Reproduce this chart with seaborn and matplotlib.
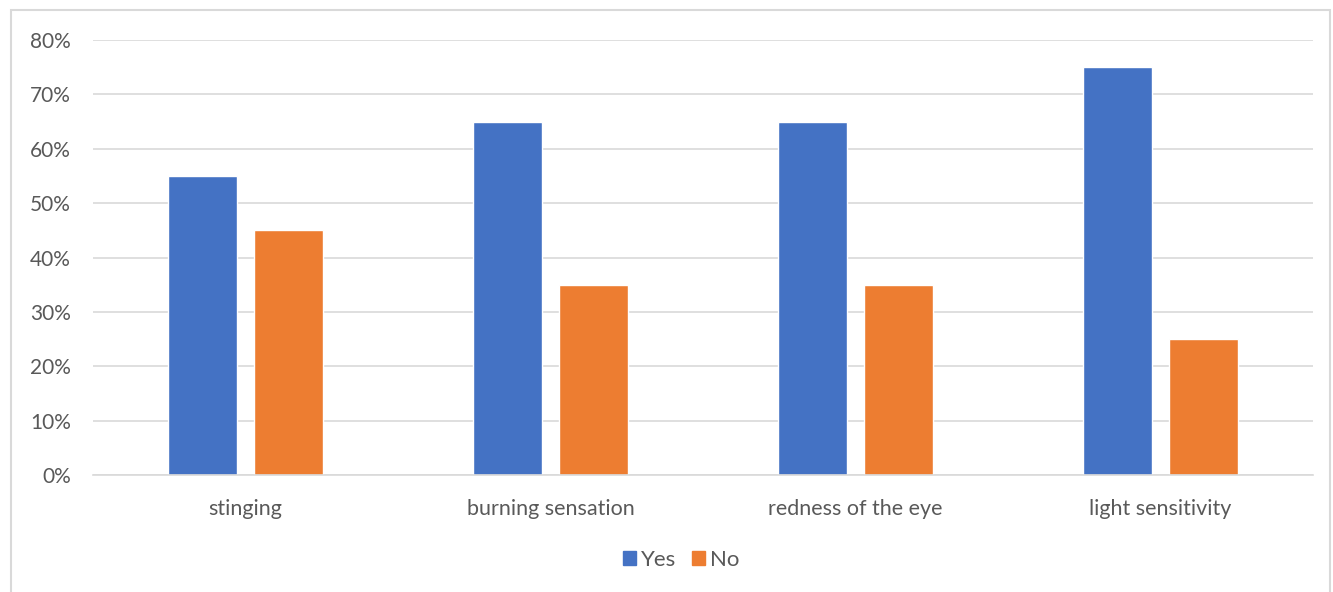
import matplotlib
matplotlib.use("Agg")
import matplotlib.pyplot as plt
import seaborn as sns
import pandas as pd
from matplotlib.patches import Rectangle
from matplotlib.ticker import PercentFormatter

categories = ["stinging", "burning sensation", "redness of the eye", "light sensitivity"]
yes_values = [55, 65, 65, 75]
no_values = [45, 35, 35, 25]
series_names = ["Yes", "No"]
colors = ["#4472C4", "#ED7D31"]

df = pd.DataFrame({
    "category": categories * 2,
    "value": yes_values + no_values,
    "series": [series_names[0]] * 4 + [series_names[1]] * 4,
})

sns.set_theme(style="white")
plt.rcParams["font.family"] = ["Lato", "DejaVu Sans"]

W, H = 1333, 592
fig = plt.figure(figsize=(W / 100, H / 100), dpi=100)
ax = fig.add_axes([93 / W, 1 - 475 / H, (1313 - 93) / W, (475 - 40) / H])

sns.barplot(data=df, x="category", y="value", hue="series", palette=colors,
            width=0.57, gap=0.207, ax=ax, saturation=1, legend=False)

ax.set_ylim(0, 80)
ax.set_xlim(-0.5, 3.5)
ax.set_yticks(range(0, 81, 10))
ax.yaxis.set_major_formatter(PercentFormatter(decimals=0))
ax.grid(axis="y", color="#D9D9D9", linewidth=1.2)
ax.set_axisbelow(True)
for s in ["top", "right", "left"]:
    ax.spines[s].set_visible(False)
ax.spines["bottom"].set_color("#D9D9D9")
ax.spines["bottom"].set_linewidth(1.2)
ax.tick_params(axis="both", length=0, colors="#595959")
ax.tick_params(axis="y", pad=16, labelsize=15)
ax.tick_params(axis="x", pad=17, labelsize=15.5)
ax.set_xlabel("")
ax.set_ylabel("")

# figure border (bottom edge falls outside the image, as in the reference)
fig.patches.append(Rectangle((11 / W, -0.05), (1330 - 11) / W, 1.05 - 10 / H,
                             transform=fig.transFigure, fill=False,
                             edgecolor="#D9D9D9", linewidth=1.5))

handles = [Rectangle((0, 0), 1, 1, color=c) for c in colors]
fig.legend(handles, series_names, loc="center", bbox_to_anchor=(681 / W, 1 - 560 / H),
           ncol=2, frameon=False, fontsize=16, handlelength=0.59, handleheight=0.59,
           handletextpad=0.22, columnspacing=0.72, labelcolor="#595959",
           borderpad=0, borderaxespad=0)

fig.savefig("out.png", dpi=100)
